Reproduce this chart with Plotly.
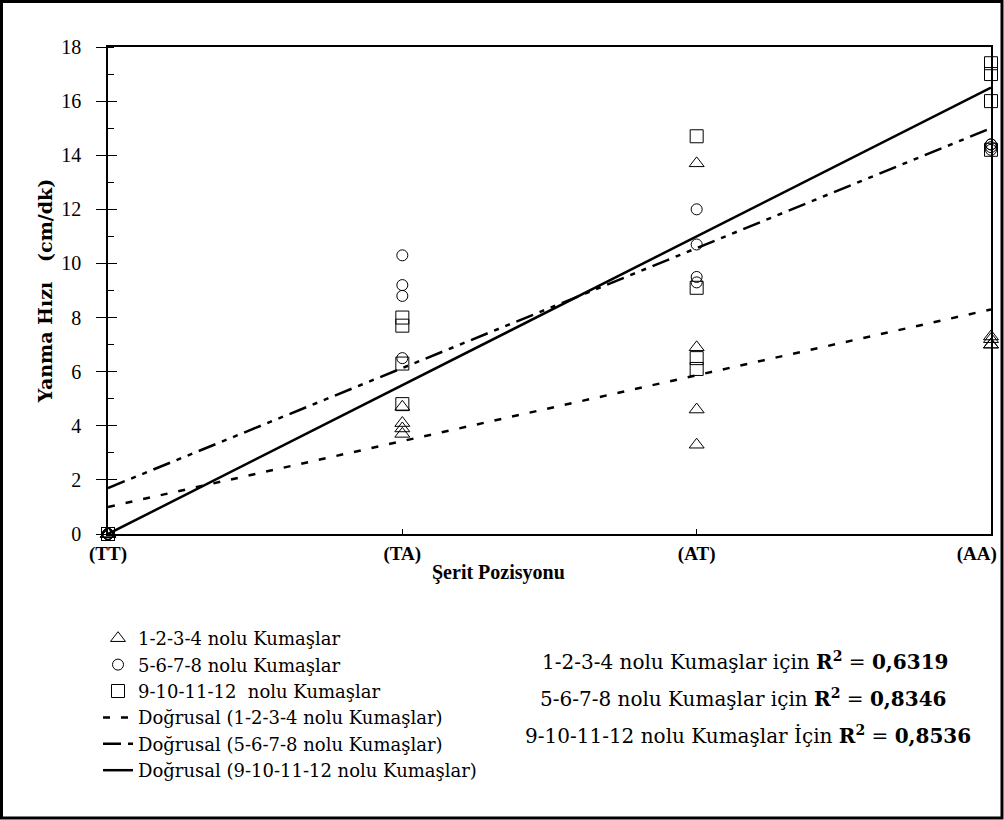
import plotly.graph_objects as go

# ---- data ----
categories = ["(TT)", "(TA)", "(AT)", "(AA)"]
cat_pos = [0, 1, 2, 3]

# group 1-2-3-4 (triangles)
g1_x = [0, 0, 0, 0, 1, 1, 1, 1, 2, 2, 2, 2, 3, 3, 3, 3]
g1_y = [0, 0, 0, 0, 4.7, 4.1, 3.9, 3.7, 13.7, 6.9, 4.6, 3.3, 7.3, 7.2, 7.0, 7.0]
# group 5-6-7-8 (circles)
g2_x = [0, 0, 0, 0, 1, 1, 1, 1, 2, 2, 2, 2, 3, 3, 3, 3]
g2_y = [0, 0, 0, 0, 10.3, 9.2, 8.8, 6.5, 12.0, 10.7, 9.5, 9.3, 14.4, 14.3, 14.2, 14.4]
# group 9-10-11-12 (squares)
g3_x = [0, 0, 0, 0, 1, 1, 1, 1, 2, 2, 2, 2, 3, 3, 3, 3]
g3_y = [0, 0, 0, 0, 8.0, 7.7, 6.3, 4.8, 14.7, 9.1, 6.5, 6.1, 17.4, 17.0, 16.0, 14.2]

# linear trend lines (value at TT and AA)
trend_x = [0, 3]
trend1 = [1.0, 8.3]
trend2 = [1.7, 15.0]
trend3 = [0.0, 16.5]

r2_labels = ["1-2-3-4 nolu Kumaşlar için", "5-6-7-8 nolu Kumaşlar için", "9-10-11-12 nolu Kumaşlar İçin"]
r2_values = ["0,6319", "0,8346", "0,8536"]

names = ["1-2-3-4 nolu Kumaşlar", "5-6-7-8 nolu Kumaşlar", "9-10-11-12  nolu Kumaşlar",
         "Doğrusal (1-2-3-4 nolu Kumaşlar)", "Doğrusal (5-6-7-8 nolu Kumaşlar)",
         "Doğrusal (9-10-11-12 nolu Kumaşlar)"]

SERIF = "Liberation Serif, Times New Roman, serif"
WIDE = "DejaVu Serif, serif"
W, H = 1004, 820
L, R, T, B = 108, 13, 47, 286
PW, PH = W - L - R, H - T - B


def px(xp):
    return (xp - L) / PW


def py(yp):
    return (H - B - yp) / PH


fig = go.Figure()

mk = dict(color="black", line=dict(color="black", width=1))
fig.add_trace(go.Scatter(x=g1_x, y=g1_y, mode="markers", name=names[0], legendgroup="a",
                         marker=dict(symbol="triangle-up-open", size=13, **mk), cliponaxis=False))
fig.add_trace(go.Scatter(x=g2_x, y=g2_y, mode="markers", name=names[1], legendgroup="b",
                         marker=dict(symbol="circle-open", size=11, **mk), cliponaxis=False))
fig.add_trace(go.Scatter(x=g3_x, y=g3_y, mode="markers", name=names[2], legendgroup="c",
                         marker=dict(symbol="square-open", size=13, **mk), cliponaxis=False))
fig.add_trace(go.Scatter(x=trend_x, y=trend1, mode="lines", name=names[3], legendgroup="d",
                         line=dict(color="black", width=2.5, dash="7px,11px"), cliponaxis=False))
fig.add_trace(go.Scatter(x=trend_x, y=trend2, mode="lines", name=names[4], legendgroup="e",
                         line=dict(color="black", width=2.5, dash="18px,7px,5px,7px,5px,7px"), cliponaxis=False))
fig.add_trace(go.Scatter(x=trend_x, y=trend3, mode="lines", name=names[5], legendgroup="f",
                         line=dict(color="black", width=2.5), cliponaxis=False))

# invisible trace on an overlay axis to get crossing major ticks
fig.add_trace(go.Scatter(x=[0], y=[0], mode="markers", marker=dict(opacity=0), yaxis="y2",
                         showlegend=False, hoverinfo="skip"))

fig.update_layout(
    width=W, height=H,
    margin=dict(l=L, r=R, t=T, b=B, autoexpand=False),
    paper_bgcolor="white", plot_bgcolor="white",
    font=dict(family=SERIF, color="black", size=16),
    xaxis=dict(range=[0, 3], tickvals=cat_pos, automargin=False,
               ticktext=["<b>" + c + "</b>" if c != "(AA)" else "<b>" + c + "</b>" + "\u00a0" * 6 for c in categories],
               showline=True, linecolor="black", linewidth=1.5, mirror=True,
               ticks="inside", ticklen=5, tickcolor="black", showgrid=False, zeroline=False,
               tickfont=dict(size=19, family=SERIF), ticklabelstandoff=1, ticklabeloverflow="allow"),
    yaxis=dict(range=[0, 18], dtick=2, showline=True, linecolor="black", linewidth=1.5, mirror=True,
               automargin=False,
               ticks="outside", ticklen=10, tickcolor="black", showgrid=False, zeroline=False,
               tickfont=dict(size=20, family=SERIF), ticklabelstandoff=11,
               minor=dict(dtick=1, ticks="inside", ticklen=6, tickcolor="black"),
               title=dict(text="<b>Yanma Hızı\u00a0\u00a0\u00a0(cm/dk)</b>", font=dict(size=19, family=WIDE), standoff=4)),
    yaxis2=dict(range=[0, 18], dtick=2, overlaying="y", side="left", ticks="inside", ticklen=9,
                automargin=False,
                tickcolor="black", showticklabels=False, showgrid=False, zeroline=False, showline=False),
    showlegend=True,
    legend=dict(x=px(98), y=py(620), xanchor="left", yanchor="top", traceorder="grouped",
                tracegroupgap=0, bgcolor="rgba(0,0,0,0)", borderwidth=0,
                font=dict(size=18, family=WIDE), itemwidth=30),
)

fig.add_annotation(x=px(498), y=py(572), xref="paper", yref="paper", text="<b>Şerit Pozisyonu</b>",
                   showarrow=False, font=dict(size=20, family=SERIF), xanchor="center", yanchor="middle")

r2_pos = [(540, 661), (538, 698), (523, 735)]
for (xp, yp), lab, val in zip(r2_pos, r2_labels, r2_values):
    fig.add_annotation(x=px(xp), y=py(yp), xref="paper", yref="paper",
                       text=lab + " <b>R<sup>2</sup></b> = <b>" + val + "</b>",
                       showarrow=False, font=dict(size=20, family=WIDE), xanchor="left", yanchor="middle")

# outer frame
fig.add_shape(type="rect", xref="paper", yref="paper", x0=px(1.5), x1=px(1002), y0=py(818), y1=py(1.5),
              line=dict(color="black", width=3), fillcolor="rgba(0,0,0,0)", layer="above")

fig.write_html("out.html", config={"displayModeBar": False},
               post_script="document.body.style.margin='0px';document.body.style.padding='0px';")
